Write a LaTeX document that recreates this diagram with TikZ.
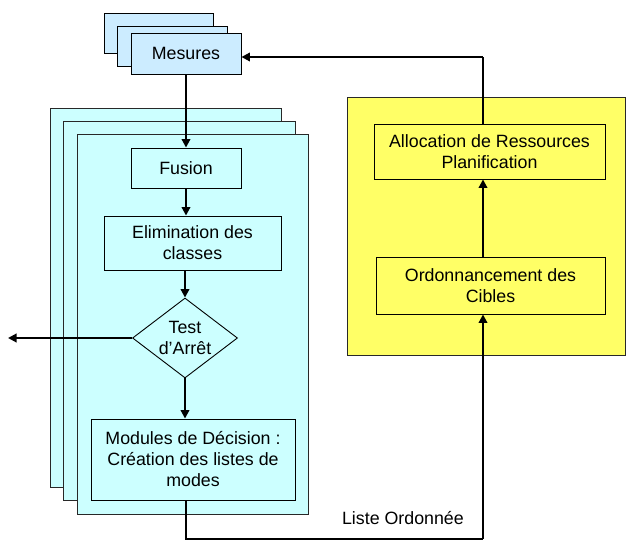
\documentclass[tikz,border=0pt]{standalone}
\usepackage{fontspec}
\setmainfont{Liberation Sans}
\usetikzlibrary{shapes.geometric,arrows.meta}
\definecolor{mesblue}{RGB}{204,236,255}
\definecolor{procyan}{RGB}{204,255,255}
\definecolor{planyel}{RGB}{255,255,102}
\definecolor{edgegray}{RGB}{40,40,40}
\tikzset{
  box/.style={draw=black, line width=0.9pt, inner sep=1pt, align=center,
    font=\fontsize{17.8}{21}\selectfont},
  layer/.style={draw=edgegray, line width=0.9pt},
  flow/.style={line width=2pt, -{Triangle[length=8.5pt,width=8.5pt]}},
  link/.style={line width=2pt}
}
\begin{document}
\begin{tikzpicture}[x=1pt,y=-1pt]
\useasboundingbox (0,0) rectangle (626,541);

% stack of measurement sheets
\node[box, fill=mesblue, minimum width=109pt, minimum height=40pt] (mesA) at (158.5,33) {};
\node[box, fill=mesblue, minimum width=110pt, minimum height=40pt] (mesB) at (172,46) {};
\node[box, fill=mesblue, minimum width=110pt, minimum height=41pt] (mes) at (186,53.5) {Mesures};

% stack of processing layers
\node[layer, fill=procyan, minimum width=231pt, minimum height=379pt, inner sep=0pt] (layA) at (165.5,297.5) {};
\node[layer, fill=procyan, minimum width=232pt, minimum height=379pt, inner sep=0pt] (layB) at (179,310.5) {};
\node[layer, fill=procyan, minimum width=231pt, minimum height=380pt, inner sep=0pt] (layC) at (192.5,324) {};

\node[box, fill=procyan, minimum width=110pt, minimum height=40pt] (fus) at (186,168) {Fusion};
\node[box, fill=procyan, minimum width=177pt, minimum height=54pt] (elim) at (192.5,243) {Elimination des\\classes};
\node[box, diamond, fill=procyan, minimum width=105pt, minimum height=80pt, inner sep=0pt, aspect=1.3] (test) at (185,338) {Test\\d’Arrêt};
\node[box, fill=procyan, minimum width=204pt, minimum height=81pt] (mod) at (193,459.5) {Modules de Décision :\\Création des listes de\\modes};

% planning block
\node[layer, fill=planyel, minimum width=278pt, minimum height=258pt, inner sep=0pt] (plan) at (486,226) {};
\node[box, fill=planyel, minimum width=231pt, minimum height=55pt] (alloc) at (489.5,151.5) {Allocation de Ressources\\Planification};
\node[box, fill=planyel, minimum width=229pt, minimum height=57pt] (ord) at (490.5,285.5) {Ordonnancement des\\Cibles};

\node[font=\fontsize{17.8}{21}\selectfont, anchor=east, inner sep=0pt] (liste) at (464,518) {Liste Ordonnée};

% connectors
\coordinate (exit) at (8,338);
\coordinate (botL) at (185.5,539);
\coordinate (botR) at (483,539);
\coordinate (topR) at (483,57);

\draw[flow] (mes.south) -- (fus.north);
\draw[flow] (fus.south) -- (fus.south |- elim.north);
\draw[flow] (test.north |- elim.south) -- (test.north);
\draw[flow] (test.south) -- (test.south |- mod.north);
\draw[flow] (test.west) -- (exit);
\draw[link] (mod.south -| botL) -- (botL) -- (botR);
\draw[flow] (botR) -- (botR |- ord.south);
\draw[flow] (ord.north -| botR) -- (alloc.south -| botR);
\draw[link] (alloc.north -| topR) -- (topR);
\draw[flow] (topR) -- (mes.east |- topR);
\end{tikzpicture}
\end{document}
